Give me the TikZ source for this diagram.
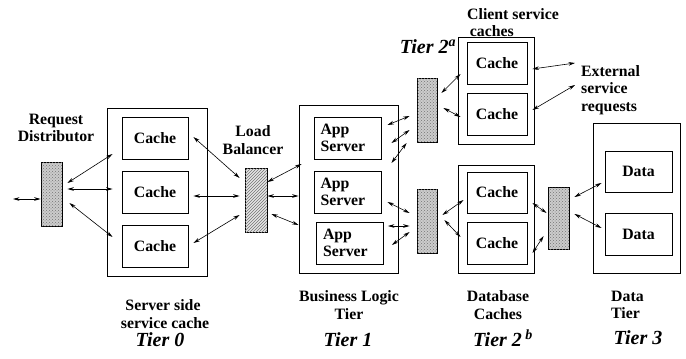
\documentclass[tikz,border=0pt]{standalone}
\usepackage{fontspec}
\setmainfont{Liberation Serif}
\usetikzlibrary{arrows.meta,patterns}
\begin{document}
\begin{tikzpicture}[x=1pt,y=-1pt,
  box/.style={draw,line width=0.9pt,inner sep=0pt,font=\fontsize{15.8}{17.5}\selectfont\bfseries},
  appbox/.style={box,text width=54pt,inner xsep=6.5pt,align=left,minimum height=42pt},
  mux/.style={draw,line width=0.8pt,inner sep=0pt,minimum width=20pt,minimum height=64pt,
     fill=gray!40,postaction={pattern=crosshatch dots,pattern color=black!55}},
  lbmux/.style={draw,line width=0.8pt,inner sep=0pt,minimum width=22pt,minimum height=64pt,
     fill=gray!20,postaction={pattern=north east lines,pattern color=black!55}},
  lbl/.style={font=\fontsize{15.8}{17.5}\selectfont\bfseries,inner sep=0pt},
  tier/.style={font=\fontsize{20}{22}\selectfont\bfseries\itshape,inner sep=0pt},
  arr/.style={{Stealth[length=6.5pt,width=3.6pt]}-{Stealth[length=6.5pt,width=3.6pt]},line width=0.6pt}
]
\useasboundingbox (0,0) rectangle (686,359);
% Tier 0
\node[box,minimum width=100pt,minimum height=168pt] (t0) at (157,192) {};
\node[box,minimum width=66pt,minimum height=42pt] (c01) at (155,138) {Cache};
\node[box,minimum width=66pt,minimum height=42pt] (c02) at (155,192) {Cache};
\node[box,minimum width=66pt,minimum height=42pt] (c03) at (155,246) {Cache};
\node[mux,minimum width=21pt] (rd) at (51.5,194) {};
\node[lbmux] (lb) at (256,200) {};
% Tier 1
\node[box,minimum width=99pt,minimum height=168pt] (t1) at (348.5,189) {};
\node[appbox] (a1) at (347.5,138) {App\\Server};
\node[appbox] (a2) at (347.5,192) {App\\Server};
\node[appbox] (a3) at (350,243) {App\\Server};
\node[mux] (m2a) at (427,110) {};
\node[mux] (m2b) at (427,221) {};
% Tier 2a
\node[box,minimum width=76pt,minimum height=107pt] (t2a) at (496,90.5) {};
\node[box,minimum width=60pt,minimum height=42pt] (ca1) at (497,63) {Cache};
\node[box,minimum width=60pt,minimum height=42pt] (ca2) at (497,114) {Cache};
% Tier 2b
\node[box,minimum width=76pt,minimum height=108pt] (t2b) at (496,219) {};
\node[box,minimum width=60pt,minimum height=41pt] (cb1) at (497,192.5) {Cache};
\node[box,minimum width=60pt,minimum height=42pt] (cb2) at (497,243) {Cache};
\node[mux,minimum width=21pt,minimum height=62pt] (m3) at (558.5,218) {};
% Tier 3
\node[box,minimum width=87pt,minimum height=150pt] (t3) at (636.5,198) {};
\node[box,minimum width=67pt,minimum height=41pt] (d1) at (638.5,171.5) {Data};
\node[box,minimum width=67pt,minimum height=42pt] (d2) at (638.5,234) {Data};
% labels
\node[lbl,align=center] (lrd) at (56,128) {Request\\Distributor};
\node[lbl,align=center] (llb) at (253,140) {Load\\Balancer};
\node[lbl,align=left,anchor=west] (lcl) at (467,22.5) {Client service\\\,caches};
\node[lbl,align=left,anchor=west] (lext) at (581,90) {External\\service\\requests};
\node[tier] (lt2a) at (428,47) {Tier 2\textsuperscript{\itshape a}};
\node[lbl,align=center] (lt0) at (163,314) {Server side\\\ service cache};
\node[tier] (tt0) at (160,340) {Tier 0};
\node[lbl,align=center] (lt1) at (349,305) {Business Logic\\Tier};
\node[tier] (tt1) at (348,340) {Tier 1};
\node[lbl,align=center] (lt2b) at (498,305) {Database\\Caches};
\node[tier] (tt2b) at (503,338) {Tier 2\,\textsuperscript{\itshape b}};
\node[lbl,align=left,anchor=west] (lt3) at (611,305) {Data\\Tier};
\node[tier] (tt3) at (638,338) {Tier 3};
% free ends
\coordinate (inL) at (13,199);
\coordinate (e1) at (575,63);
\coordinate (e2) at (575,85);
% arrows
\draw[arr] (inL) -- ([shift={(0,5)}]rd.west);
\draw[arr] ([shift={(5,-11)}]rd.east) -- ([shift={(6,-38)}]t0.west);
\draw[arr] ([shift={(5,-5)}]rd.east) -- ([shift={(6,-3)}]t0.west);
\draw[arr] ([shift={(7,9)}]rd.east) -- ([shift={(6,45)}]t0.west);
\draw[arr] ([shift={(5,-1)}]c01.east) -- ([shift={(-5,-22)}]lb.west);
\draw[arr] ([shift={(5,4)}]c02.east) -- ([shift={(-5,-4)}]lb.west);
\draw[arr] ([shift={(5,-3)}]c03.east) -- ([shift={(-5,15)}]lb.west);
\draw[arr] ([shift={(0,-18)}]lb.east) -- ([shift={(3,-25)}]t1.west);
\draw[arr] ([shift={(0,-4)}]lb.east) -- ([shift={(0,7)}]t1.west);
\draw[arr] ([shift={(4,14)}]lb.east) -- ([shift={(0,36)}]t1.west);
\draw[arr] ([shift={(6,-13)}]a1.east) -- ([shift={(-7,6)}]m2a.west);
\draw[arr] ([shift={(10,5)}]a1.east) -- ([shift={(-7,20)}]m2a.west);
\draw[arr] ([shift={(10,25)}]a1.east) -- ([shift={(-10,33)}]m2a.west);
\draw[arr] ([shift={(6,10)}]a2.east) -- ([shift={(-7,-8)}]m2b.west);
\draw[arr] ([shift={(4,-17)}]a3.east) -- ([shift={(-7,5)}]m2b.west);
\draw[arr] ([shift={(8,2)}]a3.east) -- ([shift={(-7,11)}]m2b.west);
\draw[arr] ([shift={(4,-17)}]m2a.east) -- ([shift={(3,-16.5)}]t2a.west);
\draw[arr] ([shift={(6,-2)}]m2a.east) -- ([shift={(3,26.5)}]t2a.west);
\draw[arr] ([shift={(5,6)}]ca1.east) -- (e1);
\draw[arr] ([shift={(5,-4)}]ca2.east) -- (e2);
\draw[arr] ([shift={(5,-6)}]m2b.east) -- ([shift={(-3,7.5)}]cb1.west);
\draw[arr] ([shift={(7,-1)}]m2b.east) -- ([shift={(3,18)}]t2b.west);
\draw[arr] ([shift={(5,10.5)}]cb1.east) -- ([shift={(-1,-5)}]m3.west);
\draw[arr] ([shift={(5,10)}]cb2.east) -- ([shift={(-4,18)}]m3.west);
\draw[arr] ([shift={(5,-21)}]m3.east) -- ([shift={(-3,11.5)}]d1.west);
\draw[arr] ([shift={(5,-4)}]m3.east) -- ([shift={(-3,-6)}]d2.west);
\end{tikzpicture}
\end{document}
